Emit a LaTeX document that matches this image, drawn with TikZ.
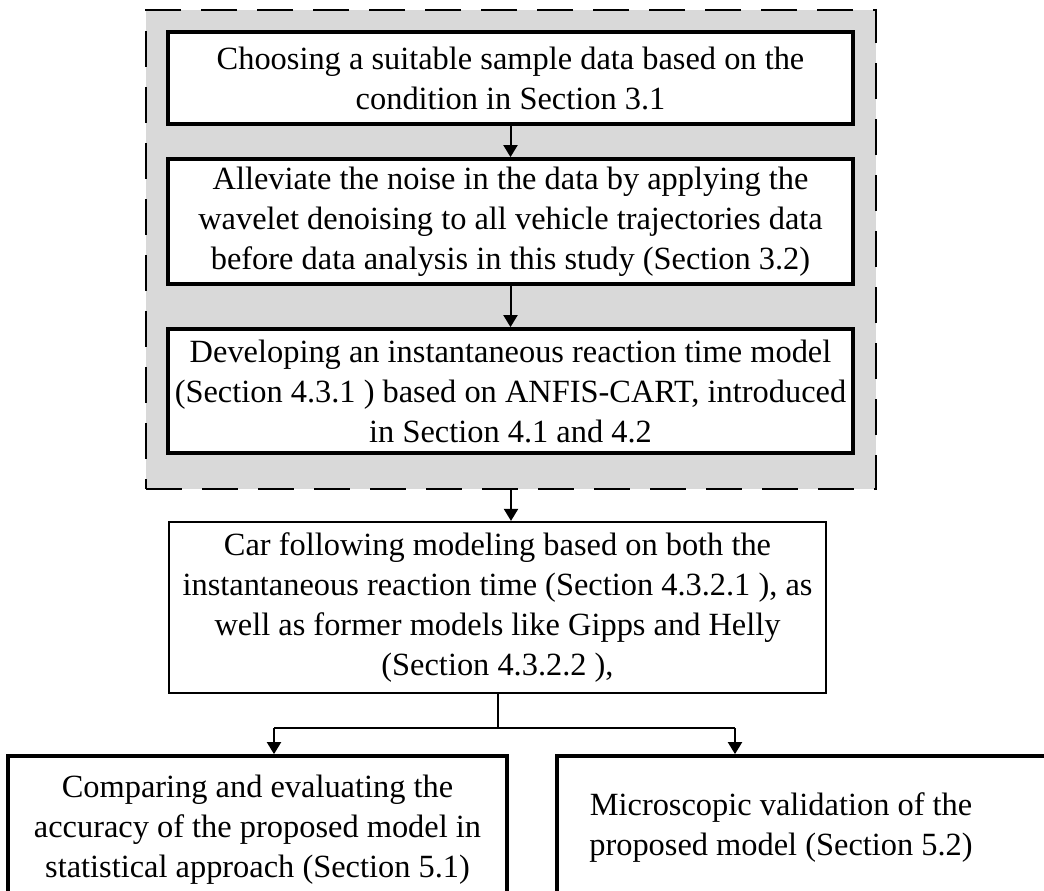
\documentclass[tikz,border=0pt]{standalone}
\usepackage{fontspec}
\setmainfont{Liberation Serif}
\usetikzlibrary{arrows.meta}

\begin{document}
\begin{tikzpicture}[x=0.5pt,y=-0.5pt,
  font=\fontsize{16.2}{20}\selectfont,
  >={Triangle[length=6pt,width=7pt]},
  prepframe/.style={draw,dashed,dash pattern=on 18pt off 10pt,line width=1.25pt,fill=black!15,inner sep=0pt},
  stagebox/.style={draw,line width=1.9pt,fill=white,align=center,inner sep=0pt},
  modelbox/.style={draw,line width=1.1pt,fill=white,align=center,inner sep=0pt},
  link/.style={->,line width=1pt}]
  \useasboundingbox (0,0) rectangle (1044,890);
  % grey frame round the preparation steps
  \node[prepframe,minimum width=365pt,minimum height=239.5pt] (prep) at (511,249.5) {};
  \node[stagebox,minimum width=342.5pt,minimum height=46pt] (sample) at (510.5,78)
    {Choosing a suitable sample data based on the\\condition in Section 3.1};
  \node[stagebox,minimum width=342.5pt,minimum height=62.5pt] (denoise) at (510.5,221.5)
    {Alleviate the noise in the data by applying the\\wavelet denoising to all vehicle trajectories data\\before data analysis in this study (Section 3.2)};
  \node[stagebox,minimum width=342.5pt,minimum height=62pt] (reaction) at (510.5,391)
    {Developing an instantaneous reaction time model\\(Section 4.3.1 ) based on ANFIS-CART, introduced\\in Section 4.1 and 4.2};
  \node[modelbox,minimum width=328.5pt,minimum height=85.5pt] (carfollow) at (497.5,607.5)
    {Car following modeling based on both the\\instantaneous reaction time (Section 4.3.2.1 ), as\\well as former models like Gipps and Helly\\(Section 4.3.2.2 ),};
  % evaluation boxes, cut by the lower edge
  \node[stagebox,minimum width=249.5pt,minimum height=74pt] (compare) at (257.5,830)
    {Comparing and evaluating the\\accuracy of the proposed model in\\statistical approach (Section 5.1)};
  \node[stagebox,minimum width=249.5pt,minimum height=74pt] (valid) at (806.5,830) {};
  \node[align=center,inner sep=0pt] (validtext) at (781,828)
    {Microscopic validation of the\\proposed model (Section 5.2)};
  \draw[link] (sample) -- (denoise);
  \draw[link] (denoise) -- (reaction);
  \draw[link] (prep.south) -- (prep.south |- carfollow.north);
  \coordinate (split) at (497.5,728);
  \coordinate (splitl) at (274,728);
  \coordinate (splitr) at (735,728);
  \draw[line width=1pt] (carfollow.south) -- (split);
  \draw[line width=1pt] (splitl) -- (splitr);
  \draw[link] (splitl) -- (splitl |- compare.north);
  \draw[link] (splitr) -- (splitr |- valid.north);
\end{tikzpicture}
\end{document}
